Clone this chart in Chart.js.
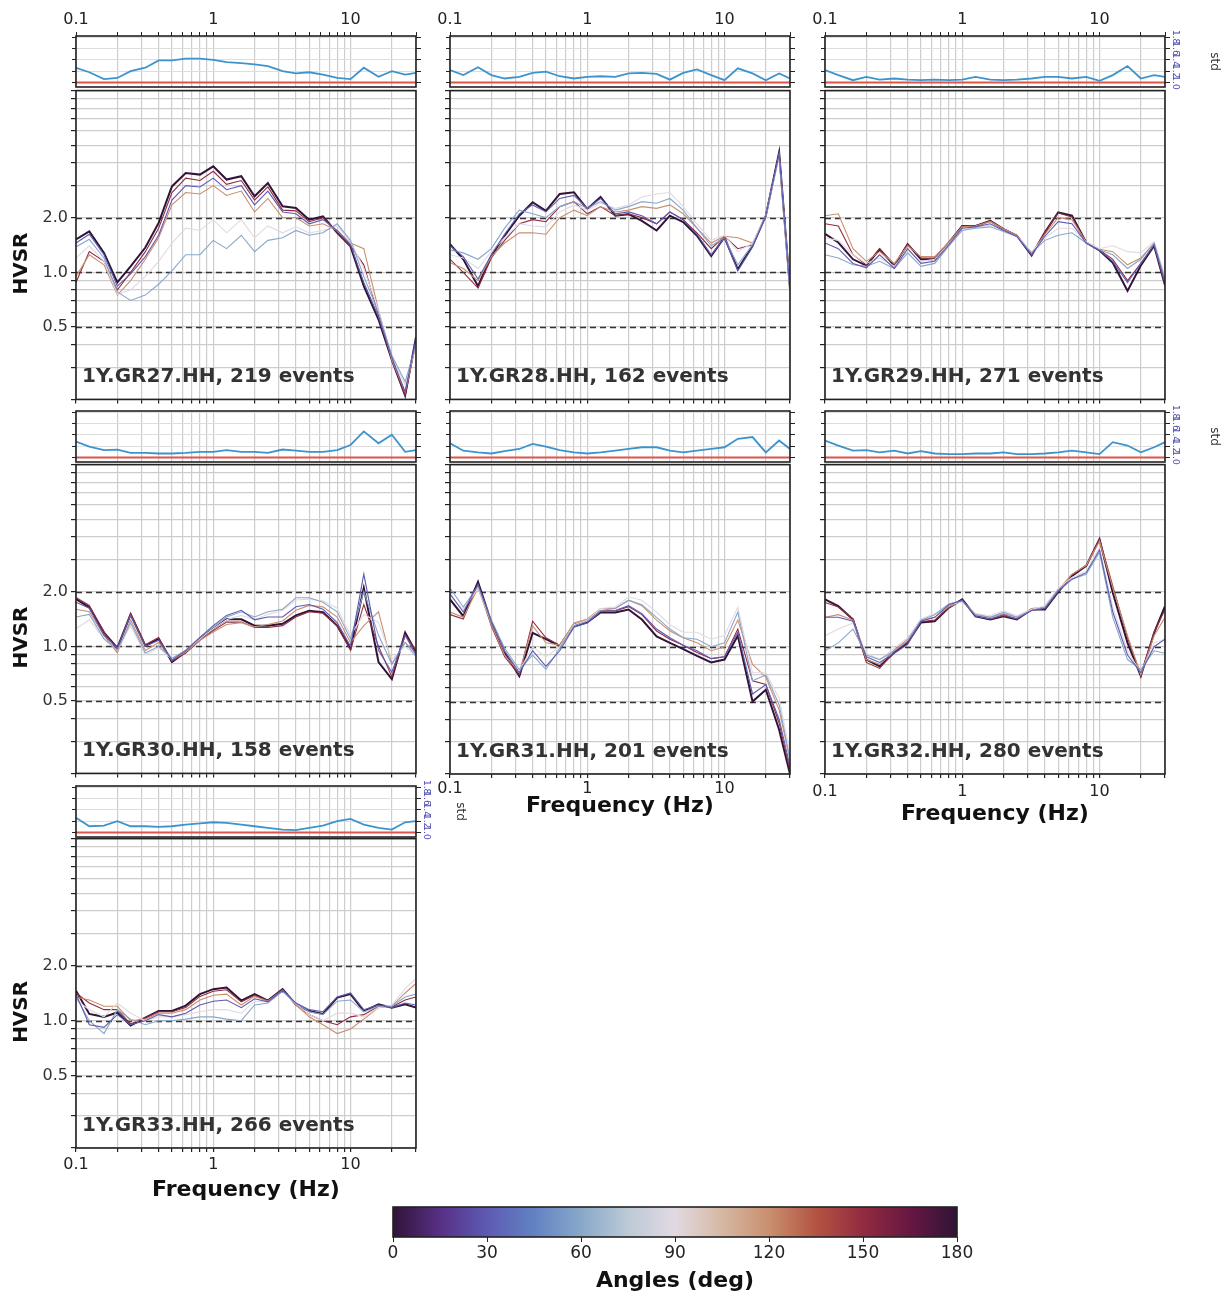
<!DOCTYPE html>
<html>
<head>
<meta charset="utf-8">
<script src="https://cdn.jsdelivr.net/npm/chart.js@4.4.1/dist/chart.umd.min.js"></script>
<style>
  html, body { margin: 0; padding: 0; background: #fff; }
  #page { position: relative; width: 1224px; height: 1299px; overflow: hidden; background: #fff; }
  #page canvas { position: absolute; }
</style>
</head>
<body>
<div id="page"></div>
<script>
// frequencies (Hz) shared by every curve
var FREQ = [0.1, 0.125, 0.16, 0.2, 0.25, 0.32, 0.4, 0.5, 0.63, 0.8, 1, 1.25, 1.6, 2, 2.5, 3.2, 4, 5, 6.3, 8, 10, 12.5, 16, 20, 25, 30];

// axis ticks
var X_MIN = 0.1, X_MAX = 30;
var X_TICKS = [0.1, 0.2, 0.3, 0.4, 0.5, 0.6, 0.7, 0.8, 0.9, 1, 2, 3, 4, 5, 6, 7, 8, 9, 10, 20, 30];
var X_LABELS = [0.1, 1, 10];
var Y_MIN = 0.2, Y_MAX = 10;
var Y_TICKS = [0.2, 0.3, 0.4, 0.5, 0.6, 0.7, 0.8, 0.9, 1, 2, 3, 4, 5, 6, 7, 8, 9, 10];
var Y_LABELS = [0.5, 1, 2];
var REF_LEVELS = [0.5, 1, 2];
var STD_MIN = 0.92, STD_MAX = 1.82;
var STD_TICKS = [1.0, 1.2, 1.4, 1.6, 1.8];
var STD_REF = 1.0;
var CB_TICKS = [0, 30, 60, 90, 120, 150, 180];

// angles drawn per station (0 == 180, drawn last)
var ANGLES = [30, 60, 90, 120, 150, 0];

// 1Y.GR27.HH
var GR27_0   = [1.52,1.68,1.28,0.88,1.08,1.37,1.87,2.97,3.52,3.45,3.83,3.24,3.38,2.62,3.10,2.31,2.26,1.95,2.03,1.65,1.39,0.84,0.55,0.33,0.21,0.44];
var GR27_30  = [1.45,1.62,1.25,0.84,0.98,1.22,1.60,2.50,3.00,2.95,3.30,2.85,3.00,2.35,2.80,2.15,2.10,1.85,1.95,1.70,1.42,0.88,0.57,0.34,0.22,0.43];
var GR27_60  = [1.38,1.52,1.20,0.78,0.70,0.75,0.86,1.02,1.25,1.25,1.50,1.35,1.60,1.30,1.50,1.55,1.70,1.60,1.65,1.85,1.50,0.95,0.60,0.35,0.25,0.40];
var GR27_90  = [1.20,1.40,1.15,0.76,0.80,0.95,1.15,1.45,1.75,1.70,1.95,1.65,1.95,1.55,1.80,1.65,1.78,1.65,1.70,1.80,1.48,1.05,0.62,0.34,0.24,0.40];
var GR27_120 = [0.95,1.25,1.10,0.75,0.90,1.18,1.55,2.35,2.75,2.70,3.00,2.65,2.80,2.15,2.55,2.00,2.00,1.80,1.85,1.70,1.45,1.35,0.62,0.33,0.22,0.40];
var GR27_150 = [0.88,1.30,1.15,0.80,1.00,1.30,1.75,2.75,3.30,3.20,3.60,3.05,3.20,2.50,2.95,2.20,2.18,1.90,2.00,1.66,1.40,1.10,0.58,0.33,0.21,0.42];
var GR27_STD = [1.26,1.18,1.06,1.08,1.20,1.26,1.39,1.39,1.42,1.42,1.40,1.36,1.34,1.32,1.29,1.20,1.16,1.18,1.14,1.08,1.06,1.26,1.10,1.20,1.14,1.17];

// 1Y.GR28.HH
var GR28_0   = [1.43,1.18,0.84,1.23,1.59,2.05,2.43,2.18,2.70,2.76,2.23,2.60,2.05,2.09,1.92,1.70,2.05,1.89,1.59,1.23,1.56,1.04,1.40,2.05,4.58,0.81];
var GR28_30  = [1.40,1.22,0.92,1.25,1.62,2.10,2.35,2.15,2.55,2.65,2.25,2.55,2.10,2.15,2.05,1.85,2.15,1.95,1.62,1.25,1.55,1.02,1.38,2.05,4.50,0.80];
var GR28_60  = [1.33,1.28,1.18,1.35,1.75,2.20,2.10,2.00,2.30,2.45,2.25,2.45,2.20,2.30,2.45,2.40,2.55,2.20,1.75,1.40,1.55,1.10,1.42,2.05,4.40,0.80];
var GR28_90  = [1.25,1.20,1.05,1.30,1.55,1.85,1.80,1.78,2.15,2.35,2.20,2.40,2.25,2.35,2.60,2.70,2.75,2.30,1.85,1.50,1.60,1.30,1.45,2.05,4.30,0.80];
var GR28_120 = [1.13,1.05,0.90,1.22,1.45,1.65,1.65,1.62,2.00,2.20,2.05,2.30,2.15,2.20,2.30,2.25,2.35,2.10,1.75,1.45,1.58,1.55,1.45,2.05,4.40,0.80];
var GR28_150 = [1.18,1.00,0.82,1.20,1.50,1.85,1.95,1.90,2.30,2.45,2.10,2.30,2.05,2.10,2.00,1.85,2.15,1.95,1.65,1.35,1.58,1.35,1.42,2.05,4.50,0.80];
var GR28_STD = [1.22,1.13,1.27,1.13,1.07,1.10,1.17,1.19,1.11,1.07,1.10,1.11,1.10,1.16,1.17,1.15,1.05,1.17,1.23,1.13,1.04,1.25,1.16,1.04,1.16,1.07];

// 1Y.GR29.HH
var GR29_0   = [1.63,1.46,1.18,1.09,1.34,1.09,1.43,1.18,1.18,1.46,1.80,1.80,1.92,1.73,1.59,1.24,1.66,2.14,2.05,1.46,1.32,1.13,0.79,1.09,1.40,0.85];
var GR29_30  = [1.45,1.35,1.12,1.06,1.25,1.05,1.35,1.12,1.15,1.42,1.75,1.78,1.85,1.70,1.58,1.25,1.58,1.90,1.85,1.45,1.32,1.15,0.88,1.12,1.42,0.88];
var GR29_60  = [1.25,1.20,1.10,1.08,1.15,1.05,1.28,1.08,1.12,1.40,1.70,1.75,1.78,1.68,1.57,1.28,1.50,1.60,1.65,1.45,1.33,1.25,1.05,1.18,1.45,0.92];
var GR29_90  = [1.55,1.50,1.25,1.12,1.20,1.08,1.32,1.15,1.18,1.44,1.72,1.76,1.82,1.70,1.58,1.30,1.55,1.75,1.75,1.47,1.35,1.40,1.30,1.28,1.48,0.95];
var GR29_120 = [2.05,2.10,1.35,1.15,1.30,1.12,1.40,1.22,1.22,1.47,1.78,1.80,1.90,1.73,1.60,1.28,1.62,2.00,1.95,1.47,1.34,1.30,1.10,1.20,1.45,0.90];
var GR29_150 = [1.85,1.80,1.25,1.10,1.35,1.10,1.43,1.20,1.20,1.46,1.80,1.80,1.92,1.73,1.60,1.25,1.66,2.12,2.02,1.46,1.33,1.18,0.90,1.12,1.42,0.86];
var GR29_STD = [1.22,1.13,1.04,1.10,1.05,1.07,1.05,1.04,1.05,1.04,1.05,1.10,1.05,1.04,1.05,1.07,1.10,1.10,1.07,1.10,1.03,1.13,1.29,1.07,1.13,1.10];

// 1Y.GR30.HH
var GR30_0   = [1.82,1.64,1.19,0.98,1.50,1.01,1.10,0.82,0.93,1.10,1.25,1.41,1.41,1.30,1.30,1.33,1.48,1.57,1.54,1.30,0.97,2.10,0.82,0.66,1.19,0.93];
var GR30_30  = [1.75,1.62,1.15,0.98,1.48,1.00,1.08,0.84,0.95,1.12,1.30,1.48,1.58,1.40,1.45,1.45,1.65,1.70,1.60,1.35,1.00,2.50,0.95,0.72,1.15,0.90];
var GR30_60  = [1.45,1.50,1.10,0.95,1.35,0.92,1.00,0.86,0.95,1.12,1.28,1.45,1.55,1.45,1.55,1.60,1.85,1.85,1.75,1.55,1.10,2.00,1.15,0.80,1.05,0.88];
var GR30_90  = [1.25,1.40,1.10,0.95,1.30,0.90,0.98,0.85,0.95,1.10,1.25,1.40,1.48,1.40,1.50,1.58,1.80,1.82,1.78,1.62,1.15,1.50,1.35,0.85,1.00,0.88];
var GR30_120 = [1.60,1.55,1.15,0.92,1.40,0.95,1.05,0.84,0.93,1.08,1.20,1.32,1.35,1.28,1.32,1.38,1.58,1.68,1.65,1.45,1.05,1.30,1.55,0.80,1.05,0.92];
var GR30_150 = [1.86,1.68,1.20,0.95,1.52,1.02,1.12,0.83,0.92,1.08,1.22,1.36,1.36,1.27,1.27,1.30,1.45,1.55,1.52,1.30,0.95,1.70,1.00,0.68,1.15,0.95];
var GR30_STD = [1.28,1.19,1.13,1.14,1.08,1.08,1.07,1.07,1.08,1.10,1.10,1.13,1.10,1.10,1.08,1.14,1.12,1.10,1.10,1.13,1.22,1.46,1.25,1.40,1.10,1.13];

// 1Y.GR31.HH
var GR31_0   = [1.82,1.47,2.27,1.36,0.93,0.69,1.19,1.10,1.01,1.30,1.36,1.54,1.54,1.60,1.41,1.14,1.05,0.97,0.89,0.82,0.85,1.15,0.50,0.58,0.35,0.20];
var GR31_30  = [1.95,1.55,2.20,1.38,0.95,0.72,0.95,0.78,0.95,1.28,1.35,1.56,1.58,1.68,1.52,1.25,1.12,1.02,0.95,0.86,0.88,1.20,0.55,0.62,0.40,0.22];
var GR31_60  = [2.10,1.65,2.15,1.40,0.98,0.75,0.90,0.75,0.98,1.30,1.38,1.58,1.62,1.80,1.70,1.45,1.25,1.12,1.10,1.00,1.05,1.55,0.65,0.70,0.48,0.24];
var GR31_90  = [1.90,1.60,2.10,1.38,0.95,0.74,1.00,0.88,1.00,1.32,1.40,1.62,1.65,1.88,1.80,1.55,1.32,1.20,1.20,1.10,1.15,1.65,0.72,0.72,0.52,0.26];
var GR31_120 = [1.55,1.45,2.10,1.32,0.90,0.72,1.30,1.05,1.02,1.35,1.42,1.62,1.62,1.80,1.68,1.40,1.22,1.12,1.05,0.95,1.00,1.40,0.80,0.68,0.45,0.24];
var GR31_150 = [1.50,1.42,2.20,1.30,0.88,0.70,1.38,1.12,1.02,1.33,1.40,1.58,1.57,1.66,1.50,1.22,1.10,1.02,0.93,0.86,0.88,1.25,0.65,0.62,0.38,0.21];
var GR31_STD = [1.25,1.12,1.09,1.07,1.11,1.15,1.24,1.19,1.13,1.09,1.07,1.09,1.12,1.15,1.18,1.18,1.12,1.09,1.12,1.15,1.18,1.33,1.36,1.09,1.30,1.15];

// 1Y.GR32.HH
var GR32_0   = [1.82,1.67,1.41,0.85,0.78,0.93,1.05,1.36,1.38,1.64,1.82,1.47,1.41,1.47,1.41,1.60,1.60,2.00,2.45,2.78,3.90,1.98,1.05,0.69,1.19,1.67];
var GR32_30  = [1.45,1.45,1.38,0.88,0.82,0.92,1.03,1.38,1.45,1.70,1.80,1.47,1.42,1.50,1.42,1.58,1.62,2.02,2.35,2.55,3.40,1.55,0.90,0.72,1.00,1.10];
var GR32_60  = [0.95,1.05,1.25,0.90,0.85,0.95,1.08,1.40,1.50,1.72,1.78,1.50,1.45,1.55,1.45,1.58,1.65,2.05,2.35,2.50,3.30,1.45,0.85,0.75,0.95,0.92];
var GR32_90  = [1.15,1.25,1.35,0.92,0.85,0.98,1.12,1.42,1.52,1.70,1.76,1.52,1.48,1.58,1.48,1.60,1.68,2.10,2.40,2.60,3.50,1.65,0.95,0.72,1.05,1.10];
var GR32_120 = [1.45,1.50,1.40,0.85,0.80,0.96,1.10,1.40,1.45,1.66,1.78,1.50,1.45,1.52,1.45,1.62,1.65,2.05,2.50,2.80,3.80,2.10,1.15,0.70,1.15,1.45];
var GR32_150 = [1.75,1.65,1.42,0.82,0.76,0.94,1.06,1.37,1.40,1.64,1.80,1.48,1.42,1.48,1.42,1.60,1.62,2.02,2.48,2.80,3.90,2.15,1.12,0.70,1.20,1.60];
var GR32_STD = [1.30,1.21,1.12,1.13,1.09,1.12,1.07,1.11,1.07,1.06,1.06,1.07,1.07,1.09,1.06,1.06,1.07,1.09,1.12,1.09,1.06,1.27,1.21,1.09,1.18,1.27];

// 1Y.GR33.HH
var GR33_0   = [1.46,1.09,1.05,1.11,0.94,1.04,1.13,1.13,1.21,1.40,1.49,1.52,1.29,1.40,1.29,1.49,1.23,1.13,1.09,1.34,1.40,1.13,1.23,1.18,1.23,1.18];
var GR33_30  = [1.40,0.95,0.92,1.08,0.95,1.00,1.08,1.05,1.10,1.22,1.28,1.30,1.18,1.32,1.27,1.47,1.25,1.15,1.12,1.35,1.42,1.15,1.22,1.18,1.25,1.22];
var GR33_60  = [1.35,1.00,0.85,1.15,1.02,0.95,1.00,1.00,1.02,1.05,1.05,1.02,1.00,1.22,1.25,1.45,1.25,1.12,1.08,1.28,1.30,1.12,1.20,1.20,1.35,1.40];
var GR33_90  = [1.30,1.15,1.05,1.25,1.10,1.00,1.05,1.05,1.08,1.12,1.15,1.15,1.10,1.28,1.27,1.45,1.24,1.08,1.00,1.10,1.10,1.05,1.18,1.22,1.50,1.70];
var GR33_120 = [1.35,1.30,1.20,1.20,1.00,1.02,1.10,1.10,1.15,1.30,1.38,1.40,1.22,1.36,1.28,1.47,1.22,1.05,0.95,0.85,0.90,1.02,1.18,1.20,1.42,1.60];
var GR33_150 = [1.42,1.25,1.15,1.15,0.96,1.04,1.12,1.12,1.18,1.36,1.45,1.48,1.27,1.38,1.29,1.48,1.22,1.08,1.00,0.95,1.05,1.08,1.20,1.19,1.30,1.35];
var GR33_STD = [1.26,1.11,1.12,1.20,1.11,1.11,1.10,1.11,1.14,1.16,1.18,1.17,1.14,1.11,1.08,1.05,1.04,1.08,1.12,1.20,1.24,1.14,1.08,1.05,1.18,1.20];

var STATIONS = [
  { code: '1Y.GR27.HH', events: 219, col: 0, row: 0, std: GR27_STD, curves: { 0: GR27_0, 30: GR27_30, 60: GR27_60, 90: GR27_90, 120: GR27_120, 150: GR27_150 } },
  { code: '1Y.GR28.HH', events: 162, col: 1, row: 0, std: GR28_STD, curves: { 0: GR28_0, 30: GR28_30, 60: GR28_60, 90: GR28_90, 120: GR28_120, 150: GR28_150 } },
  { code: '1Y.GR29.HH', events: 271, col: 2, row: 0, std: GR29_STD, curves: { 0: GR29_0, 30: GR29_30, 60: GR29_60, 90: GR29_90, 120: GR29_120, 150: GR29_150 } },
  { code: '1Y.GR30.HH', events: 158, col: 0, row: 1, std: GR30_STD, curves: { 0: GR30_0, 30: GR30_30, 60: GR30_60, 90: GR30_90, 120: GR30_120, 150: GR30_150 } },
  { code: '1Y.GR31.HH', events: 201, col: 1, row: 1, std: GR31_STD, curves: { 0: GR31_0, 30: GR31_30, 60: GR31_60, 90: GR31_90, 120: GR31_120, 150: GR31_150 } },
  { code: '1Y.GR32.HH', events: 280, col: 2, row: 1, std: GR32_STD, curves: { 0: GR32_0, 30: GR32_30, 60: GR32_60, 90: GR32_90, 120: GR32_120, 150: GR32_150 } },
  { code: '1Y.GR33.HH', events: 266, col: 0, row: 2, std: GR33_STD, curves: { 0: GR33_0, 30: GR33_30, 60: GR33_60, 90: GR33_90, 120: GR33_120, 150: GR33_150 } }
];

// twilight_shifted colour stops, angle -> colour
var CMAP = [[0,'#301437'],[15,'#573085'],[30,'#5e5ab3'],[45,'#6182c2'],[60,'#88a8c9'],[75,'#bccad6'],[90,'#e2d9e2'],
            [105,'#d6b8a3'],[120,'#c98f6e'],[135,'#b35442'],[150,'#922b40'],[165,'#661742'],[180,'#301437']];

function angleColor(a) {
  for (var i = 0; i < CMAP.length; i++) if (CMAP[i][0] === a) return CMAP[i][1];
  return '#888';
}

// ---------------------------------------------------------------
var FONT = 'DejaVu Sans';
var COL_LEFT = [76, 450, 825];
var PLOT_W = 340;
var STD_TOP = [36, 411, 786];
var STD_H = 51;
var MAIN_TOP = [90, 464, 838];
var MAIN_H = 310;

// which panels carry the bottom frequency axis, and their margins
var BOTTOM_AXIS = { '1Y.GR31.HH': { b: 45, pad: 1 }, '1Y.GR32.HH': { b: 53, pad: 4 }, '1Y.GR33.HH': { b: 55, pad: 3 } };

function addCanvas(left, top, w, h) {
  var c = document.createElement('canvas');
  c.width = w; c.height = h;
  c.style.left = left + 'px'; c.style.top = top + 'px';
  c.style.width = w + 'px'; c.style.height = h + 'px';
  document.getElementById('page').appendChild(c);
  return c;
}

function fixTicks(list) {
  return function (scale) {
    scale.ticks = list.map(function (v) { return { value: v }; });
  };
}

function fmtX(v) { return X_LABELS.indexOf(v) >= 0 ? String(v) : ''; }

var decoPlugin = {
  id: 'deco',
  beforeDatasetsDraw: function (chart, args, o) {
    var ca = chart.chartArea, ctx = chart.ctx;
    if (o.gradient) {
      var sx = chart.scales.x;
      var g = ctx.createLinearGradient(ca.left, 0, ca.right, 0);
      CMAP.forEach(function (s) {
        g.addColorStop((sx.getPixelForValue(s[0]) - ca.left) / (ca.right - ca.left), s[1]);
      });
      ctx.save();
      ctx.fillStyle = g;
      ctx.fillRect(ca.left, ca.top, ca.right - ca.left, ca.bottom - ca.top);
      ctx.restore();
    }
    if (o.refLevels) {
      var sy = chart.scales.y;
      ctx.save();
      ctx.setLineDash([6, 4]);
      ctx.strokeStyle = '#333';
      ctx.lineWidth = 1.5;
      o.refLevels.forEach(function (v) {
        var y = Math.round(sy.getPixelForValue(v)) + 0.5;
        ctx.beginPath(); ctx.moveTo(ca.left, y); ctx.lineTo(ca.right, y); ctx.stroke();
      });
      ctx.restore();
    }
  },
  afterDraw: function (chart, args, o) {
    var ca = chart.chartArea, ctx = chart.ctx;
    ctx.save();
    ctx.strokeStyle = '#222';
    ctx.lineWidth = 1.6;
    ctx.strokeRect(ca.left, ca.top, ca.right - ca.left, ca.bottom - ca.top);
    if (o.label) {
      ctx.fillStyle = '#333';
      ctx.font = 'bold 20px "' + FONT + '"';
      ctx.textAlign = 'left';
      ctx.textBaseline = 'alphabetic';
      ctx.fillText(o.label, ca.left + 6, ca.bottom - 17);
    }
    if (o.sideTitle) {
      ctx.fillStyle = '#111';
      ctx.font = 'bold 20px "' + FONT + '"';
      ctx.textAlign = 'center';
      ctx.textBaseline = 'middle';
      ctx.translate(22, ca.top + (ca.bottom - ca.top) * 0.56);
      ctx.rotate(-Math.PI / 2);
      ctx.fillText(o.sideTitle, 0, 0);
      ctx.setTransform(1, 0, 0, 1, 0, 0);
    }
    if (o.stdLabels) {
      var sy = chart.scales.y;
      ctx.fillStyle = '#4a4ab0';
      ctx.font = '9px "' + FONT + '"';
      ctx.textAlign = 'center';
      ctx.textBaseline = 'middle';
      STD_TICKS.forEach(function (v) {
        ctx.save();
        ctx.translate(ca.right + 10, sy.getPixelForValue(v));
        ctx.rotate(Math.PI / 2);
        ctx.fillText(v.toFixed(1), 0, 0);
        ctx.restore();
      });
      ctx.fillStyle = '#333';
      ctx.font = '12px "' + FONT + '"';
      ctx.save();
      ctx.translate(ca.right + o.stdTitleDx, (ca.top + ca.bottom) / 2);
      ctx.rotate(Math.PI / 2);
      ctx.fillText('std', 0, 0);
      ctx.restore();
    }
    ctx.restore();
  }
};

var GRID = '#cdcdcd';

function mainChart(st) {
  var box = { l: COL_LEFT[st.col], t: MAIN_TOP[st.row], w: PLOT_W, h: MAIN_H };
  var bottom = BOTTOM_AXIS[st.code];
  // margins kept above half a label height so Chart.js does not shrink the area
  var m = { l: st.col === 0 ? 76 : 30, r: 12, t: 12, b: bottom ? bottom.b : 12 };
  var cv = addCanvas(box.l - m.l, box.t - m.t, box.w + m.l + m.r, box.h + m.t + m.b);

  var datasets = ANGLES.map(function (a) {
    return {
      data: FREQ.map(function (f, i) { return { x: f, y: st.curves[a][i] }; }),
      borderColor: angleColor(a),
      borderWidth: a === 0 ? 2 : 1.1,
      pointRadius: 0,
      fill: false,
      tension: 0
    };
  });

  new Chart(cv, {
    type: 'line',
    data: { datasets: datasets },
    options: {
      responsive: false, animation: false, events: [], devicePixelRatio: 1,
      layout: { padding: { left: 0, top: m.t, right: m.r, bottom: 0 } },
      plugins: {
        legend: { display: false }, tooltip: { enabled: false },
        deco: { refLevels: REF_LEVELS, label: st.code + ', ' + st.events + ' events', sideTitle: st.col === 0 ? 'HVSR' : null }
      },
      scales: {
        x: {
          type: 'logarithmic', min: X_MIN, max: X_MAX,
          afterBuildTicks: fixTicks(X_TICKS),
          afterFit: function (s) { s.height = m.b; },
          grid: { color: GRID, lineWidth: 1.2, tickColor: '#222', tickLength: 4 },
          border: { display: false },
          ticks: {
            autoSkip: false, maxRotation: 0, padding: bottom ? bottom.pad : 0, color: '#222',
            font: { family: FONT, size: 16 },
            callback: function (v) { return bottom ? fmtX(v) : ''; }
          },
          title: { display: !!bottom, text: 'Frequency (Hz)', color: '#111', padding: 0, font: { family: FONT, size: 22, weight: 'bold' } }
        },
        y: {
          type: 'logarithmic', min: Y_MIN, max: Y_MAX,
          afterBuildTicks: fixTicks(Y_TICKS),
          afterFit: function (s) { s.width = m.l; },
          grid: { color: GRID, lineWidth: 1.2, tickColor: '#222', tickLength: 5 },
          border: { display: false },
          ticks: {
            autoSkip: false, padding: 3, color: '#333',
            font: { family: FONT, size: 16 },
            callback: function (v) { return st.col === 0 && Y_LABELS.indexOf(v) >= 0 ? v.toFixed(1) : ''; }
          }
        }
      }
    },
    plugins: [decoPlugin]
  });
}

function stdChart(st) {
  var box = { l: COL_LEFT[st.col], t: STD_TOP[st.row], w: PLOT_W, h: STD_H };
  var showLabels = st.col === 2 || st.row === 2;
  var topAxis = st.row === 0;
  var m = { l: st.col === 0 ? 76 : 30, r: st.col === 2 ? 58 : (showLabels ? 52 : 12), t: topAxis ? 26 : 12, b: 12 };
  var cv = addCanvas(box.l - m.l, box.t - m.t, box.w + m.l + m.r, box.h + m.t + m.b);

  var scales = {
    x: {
      type: 'logarithmic', min: X_MIN, max: X_MAX,
      afterBuildTicks: fixTicks(X_TICKS),
      afterFit: function (s) { s.height = m.b; },
      grid: { color: GRID, lineWidth: 1.2, drawTicks: false },
      border: { display: false },
      ticks: { display: false, autoSkip: false }
    },
    y: {
      type: 'linear', min: STD_MIN, max: STD_MAX,
      afterBuildTicks: fixTicks(STD_TICKS),
      afterFit: function (s) { s.width = m.l; },
      grid: { color: '#dedede', lineWidth: 1, tickColor: '#222', tickLength: 4 },
      border: { display: false },
      ticks: { autoSkip: false, callback: function () { return ''; } }
    },
    y2: {
      type: 'linear', position: 'right', min: STD_MIN, max: STD_MAX,
      afterBuildTicks: fixTicks(STD_TICKS),
      afterFit: function (s) { s.width = 6; },
      grid: { drawOnChartArea: false, tickColor: '#222', tickLength: 5 },
      border: { display: false },
      ticks: { autoSkip: false, padding: 0, callback: function () { return ''; } }
    }
  };
  if (topAxis) {
    scales.x2 = {
      type: 'logarithmic', position: 'top', min: X_MIN, max: X_MAX,
      afterBuildTicks: fixTicks(X_TICKS),
      afterFit: function (s) { s.height = m.t; },
      grid: { drawOnChartArea: false, tickColor: '#222', tickLength: 4 },
      border: { display: false },
      ticks: { autoSkip: false, maxRotation: 0, padding: 3, color: '#222', font: { family: FONT, size: 16 }, callback: fmtX }
    };
  }

  new Chart(cv, {
    type: 'line',
    data: {
      datasets: [
        { data: FREQ.map(function (f, i) { return { x: f, y: st.std[i] }; }), borderColor: '#3d94cc', borderWidth: 1.8, pointRadius: 0, tension: 0 },
        { data: [{ x: X_MIN, y: STD_REF }, { x: X_MAX, y: STD_REF }], borderColor: '#e0554a', borderWidth: 2, pointRadius: 0 }
      ]
    },
    options: {
      responsive: false, animation: false, events: [], devicePixelRatio: 1,
      layout: { padding: { left: 0, top: topAxis ? 0 : m.t, right: m.r - 6, bottom: 0 } },
      plugins: {
        legend: { display: false }, tooltip: { enabled: false },
        deco: { stdLabels: showLabels, stdTitleDx: st.col === 2 ? 49 : 44 }
      },
      scales: scales
    },
    plugins: [decoPlugin]
  });
}

STATIONS.forEach(function (st) { stdChart(st); mainChart(st); });

// colour bar
(function () {
  var box = { l: 393, t: 1207, w: 564, h: 30 };
  var m = { l: 20, r: 24, t: 12, b: 57 };
  var cv = addCanvas(box.l - m.l, box.t - m.t, box.w + m.l + m.r, box.h + m.t + m.b);
  new Chart(cv, {
    type: 'scatter',
    data: { datasets: [] },
    options: {
      responsive: false, animation: false, events: [], devicePixelRatio: 1,
      layout: { padding: { left: m.l, top: m.t, right: m.r, bottom: 0 } },
      plugins: { legend: { display: false }, tooltip: { enabled: false }, deco: { gradient: true } },
      scales: {
        x: {
          type: 'linear', min: 0, max: 180,
          afterBuildTicks: fixTicks(CB_TICKS),
          afterFit: function (s) { s.height = m.b; },
          grid: { drawOnChartArea: false, tickColor: '#222', tickLength: 5 },
          border: { display: false },
          ticks: { autoSkip: false, maxRotation: 0, padding: 1, color: '#222', font: { family: FONT, size: 17 }, callback: function (v) { return String(v); } },
          title: { display: true, text: 'Angles (deg)', color: '#111', padding: 0, font: { family: FONT, size: 22, weight: 'bold' } }
        },
        y: { display: false, min: 0, max: 1 }
      }
    },
    plugins: [decoPlugin]
  });
})();
</script>
</body>
</html>
